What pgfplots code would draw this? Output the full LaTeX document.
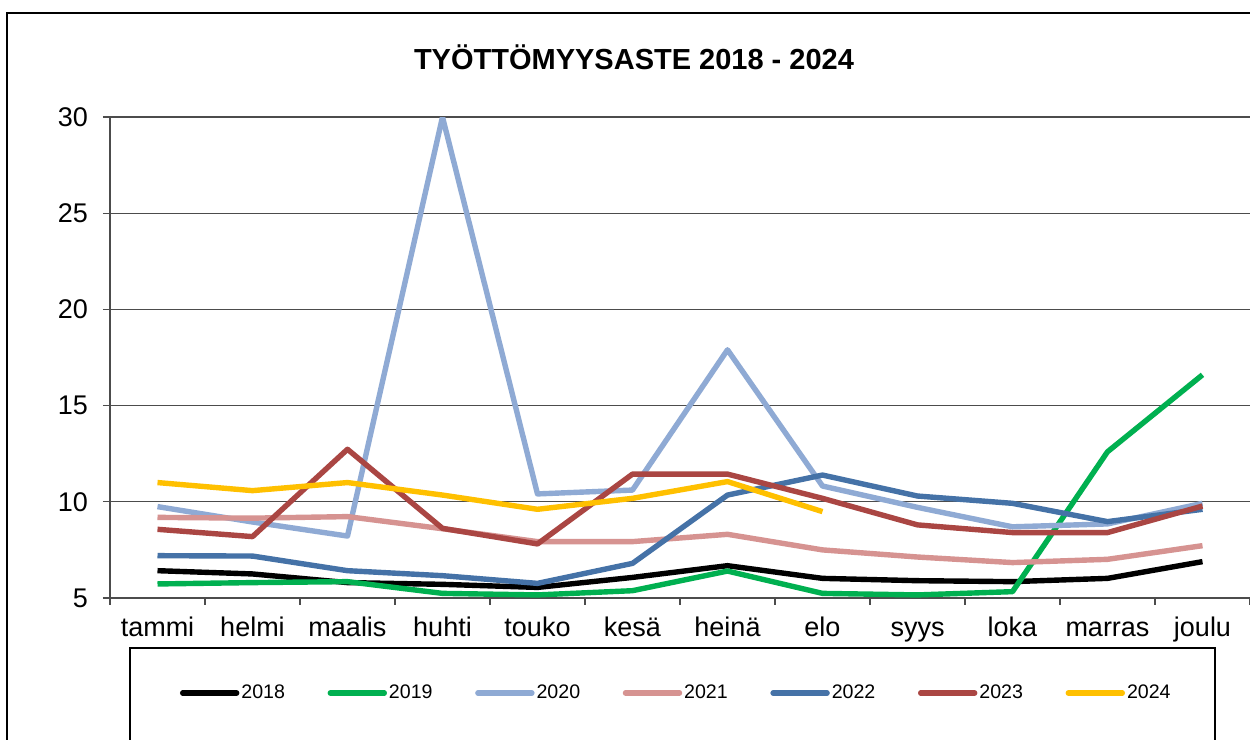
\documentclass[border=0pt]{standalone}
\usepackage{pgfplots}
\pgfplotsset{compat=1.18}
\usepackage{fontspec}
\setmainfont{Liberation Sans}
\definecolor{c2018}{HTML}{000000}
\definecolor{c2019}{HTML}{00B050}
\definecolor{c2020}{HTML}{8FAAD4}
\definecolor{c2021}{HTML}{D69391}
\definecolor{c2022}{HTML}{4572A7}
\definecolor{c2023}{HTML}{AA4643}
\definecolor{c2024}{HTML}{FFC000}
\begin{document}
\begin{tikzpicture}
\useasboundingbox (0,0) rectangle (625pt,370pt);
\clip (0,0) rectangle (625pt,370pt);
\fill[white] (0,0) rectangle (625pt,370pt);
\draw[black, line width=0.6pt] (3.5pt,-20pt) rectangle (700pt,363.5pt);
\draw[black, line width=0.6pt] (65pt,-20pt) rectangle (607.5pt,46pt);
\node[font=\bfseries\fontsize{14.5}{17}\selectfont] at (317pt,341.5pt) {TYÖTTÖMYYSASTE 2018 - 2024};
\begin{axis}[
  at={(55pt,71pt)}, anchor=south west,
  scale only axis, width=570pt, height=240.5pt,
  xmin=-0.5, xmax=11.5, ymin=5, ymax=30,
  axis x line*=bottom, axis y line*=left,
  axis line style={-, black!70, line width=0.6pt},
  tick align=outside, major tick length=3.5pt,
  every tick/.style={black!70, line width=0.6pt},
  ytick={5,10,...,30},
  ymajorgrids, major grid style={black!70, line width=0.6pt},
  xtick={-0.5,0.5,...,11.5}, xticklabels={},
  extra x ticks={0,1,2,3,4,5,6,7,8,9,10,11},
  extra x tick labels={tammi,helmi,maalis,huhti,touko,kesä,heinä,elo,syys,loka,marras,joulu},
  extra x tick style={major tick length=0pt, grid=none},
  xticklabel style={anchor=base, yshift=-19.5pt, font=\fontsize{13.5}{16}\selectfont},
  yticklabel style={anchor=east, xshift=-4pt, font=\fontsize{13.5}{16}\selectfont},
  /pgf/number format/assume math mode=true,
  every axis plot/.append style={line width=2.7pt, line join=round},
  legend columns=7,
  legend style={draw=none, fill=none, inner sep=0pt, outer sep=0pt,
    at={(rel axis cs:0.0614,-0.1975)}, anchor=west,
    font=\fontsize{9.8}{11}\selectfont,
    nodes={inner xsep=1pt, inner ysep=1pt},
    /tikz/every even column/.append style={column sep=20.3pt}},
  legend image code/.code={\draw[#1, line cap=round, line width=2.7pt] (0pt,0pt) -- (27pt,0pt);},
]
\addplot[c2018] coordinates {(0,6.42) (1,6.25) (2,5.8) (3,5.71) (4,5.55) (5,6.07) (6,6.68) (7,6.02) (8,5.9) (9,5.85) (10,6.02) (11,6.89)};
\addlegendentry{2018}
\addplot[c2019] coordinates {(0,5.73) (1,5.8) (2,5.85) (3,5.24) (4,5.16) (5,5.38) (6,6.4) (7,5.24) (8,5.16) (9,5.33) (10,12.6) (11,16.6)};
\addlegendentry{2019}
\addplot[c2020] coordinates {(0,9.75) (1,8.95) (2,8.22) (3,30) (4,10.41) (5,10.61) (6,17.9) (7,10.82) (8,9.71) (9,8.7) (10,8.85) (11,9.92)};
\addlegendentry{2020}
\addplot[c2021] coordinates {(0,9.19) (1,9.15) (2,9.23) (3,8.6) (4,7.93) (5,7.93) (6,8.31) (7,7.5) (8,7.13) (9,6.84) (10,7.01) (11,7.72)};
\addlegendentry{2021}
\addplot[c2022] coordinates {(0,7.2) (1,7.18) (2,6.42) (3,6.16) (4,5.76) (5,6.8) (6,10.35) (7,11.39) (8,10.3) (9,9.92) (10,8.97) (11,9.61)};
\addlegendentry{2022}
\addplot[c2023] coordinates {(0,8.57) (1,8.19) (2,12.73) (3,8.62) (4,7.81) (5,11.44) (6,11.44) (7,10.18) (8,8.8) (9,8.4) (10,8.4) (11,9.78)};
\addlegendentry{2023}
\addplot[c2024] coordinates {(0,11.0) (1,10.58) (2,11.0) (3,10.35) (4,9.61) (5,10.18) (6,11.05) (7,9.49)};
\addlegendentry{2024}
\end{axis}
\end{tikzpicture}
\end{document}
